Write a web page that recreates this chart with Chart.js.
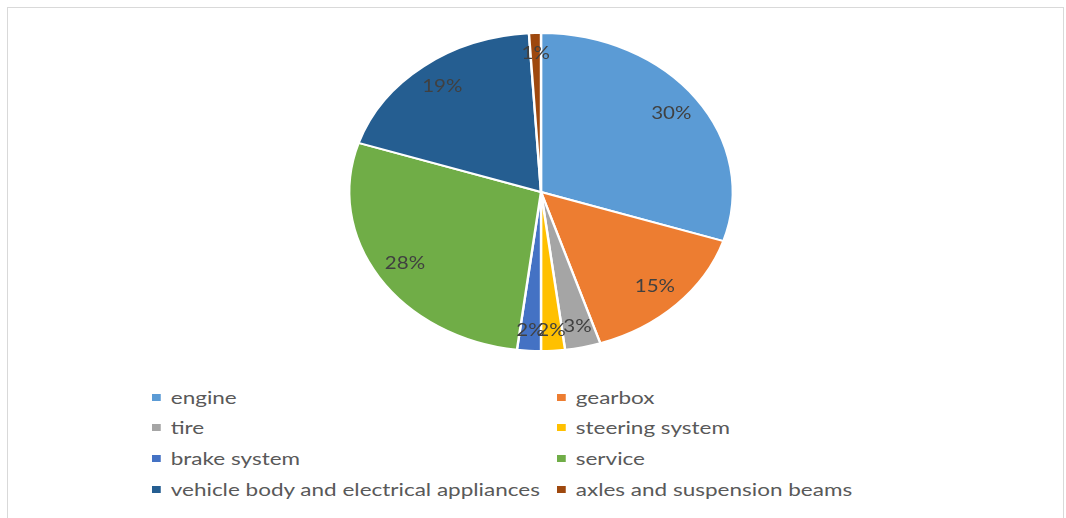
<!DOCTYPE html>
<html>
<head>
<meta charset="utf-8">
<script src="https://cdn.jsdelivr.net/npm/chart.js@4/dist/chart.umd.min.js"></script>
<style>
  body { margin: 0; background: #fff; width: 1066px; height: 518px; overflow: hidden; position: relative; font-family: Lato, "Open Sans", sans-serif; }
  .frame { position: absolute; left: 7px; top: 7px; width: 1055px; height: 530px; border: 1px solid #d9d9d9; }
  .chart-box { position: absolute; left: 0; top: 0; width: 1066px; height: 370px; }
  .legend { position: absolute; left: 0; top: 0; }
  .legend-item { position: absolute; display: flex; align-items: center; color: #595959; font-size: 18px; white-space: nowrap; transform-origin: left center; transform: scaleX(1.25); }
  .legend-item span.box { display: inline-block; width: 7px; height: 7px; margin-right: 8px; }
</style>
</head>
<body>
<div class="frame"></div>
<div class="chart-box"><canvas id="pieChart"></canvas></div>
<div class="legend" id="legend"></div>
<script>
const categorias = ['engine', 'gearbox', 'tire', 'steering system', 'brake system', 'service', 'vehicle body and electrical appliances', 'axles and suspension beams'];
const porcentajes = [30, 15, 3, 2, 2, 28, 19, 1];
const colores = ['#5B9BD5', '#ED7D31', '#A5A5A5', '#FFC000', '#4472C4', '#70AD47', '#255E91', '#9E480E'];

const estirar = 193 / 160; // the pie is wider than tall

// stretch the pie horizontally and write the % labels inside the slices
const piePlugin = {
    id: 'piePlugin',
    beforeDatasetsDraw(chart) {
        const arc = chart.getDatasetMeta(0).data[0];
        const ctx = chart.ctx;
        ctx.save();
        ctx.translate(arc.x, 0);
        ctx.scale(estirar, 1);
        ctx.translate(-arc.x, 0);
    },
    afterDatasetsDraw(chart) {
        const ctx = chart.ctx;
        ctx.font = '17px Lato, "Open Sans", sans-serif';
        ctx.fillStyle = '#404040';
        ctx.textAlign = 'center';
        ctx.textBaseline = 'middle';
        chart.getDatasetMeta(0).data.forEach((arc, i) => {
            const ang = (arc.startAngle + arc.endAngle) / 2;
            const r = arc.outerRadius * (porcentajes[i] < 5 ? 0.87 : 0.84);
            ctx.fillText(porcentajes[i] + '%', arc.x + Math.cos(ang) * r, arc.y + Math.sin(ang) * r);
        });
        ctx.restore();
    }
};

new Chart(document.getElementById('pieChart'), {
    type: 'pie',
    data: {
        labels: categorias,
        datasets: [{
            data: porcentajes,
            backgroundColor: colores,
            borderColor: '#ffffff',
            borderWidth: 2
        }]
    },
    options: {
        responsive: true,
        maintainAspectRatio: false,
        animation: false,
        layout: { padding: { top: 32, bottom: 18, left: 16, right: 0 } },
        plugins: { legend: { display: false }, tooltip: { enabled: false } }
    },
    plugins: [piePlugin]
});

// legend in two columns
const filas = [397, 427, 458, 489];
const columnas = [152, 557];
let html = '';
categorias.forEach((c, i) => {
    const x = columnas[i % 2];
    const y = filas[Math.floor(i / 2)];
    html += `<div class="legend-item" style="left:${x}px;top:${y - 12}px;height:24px"><span class="box" style="background:${colores[i]}"></span>${c}</div>`;
});
document.getElementById('legend').innerHTML = html;
</script>
</body>
</html>
